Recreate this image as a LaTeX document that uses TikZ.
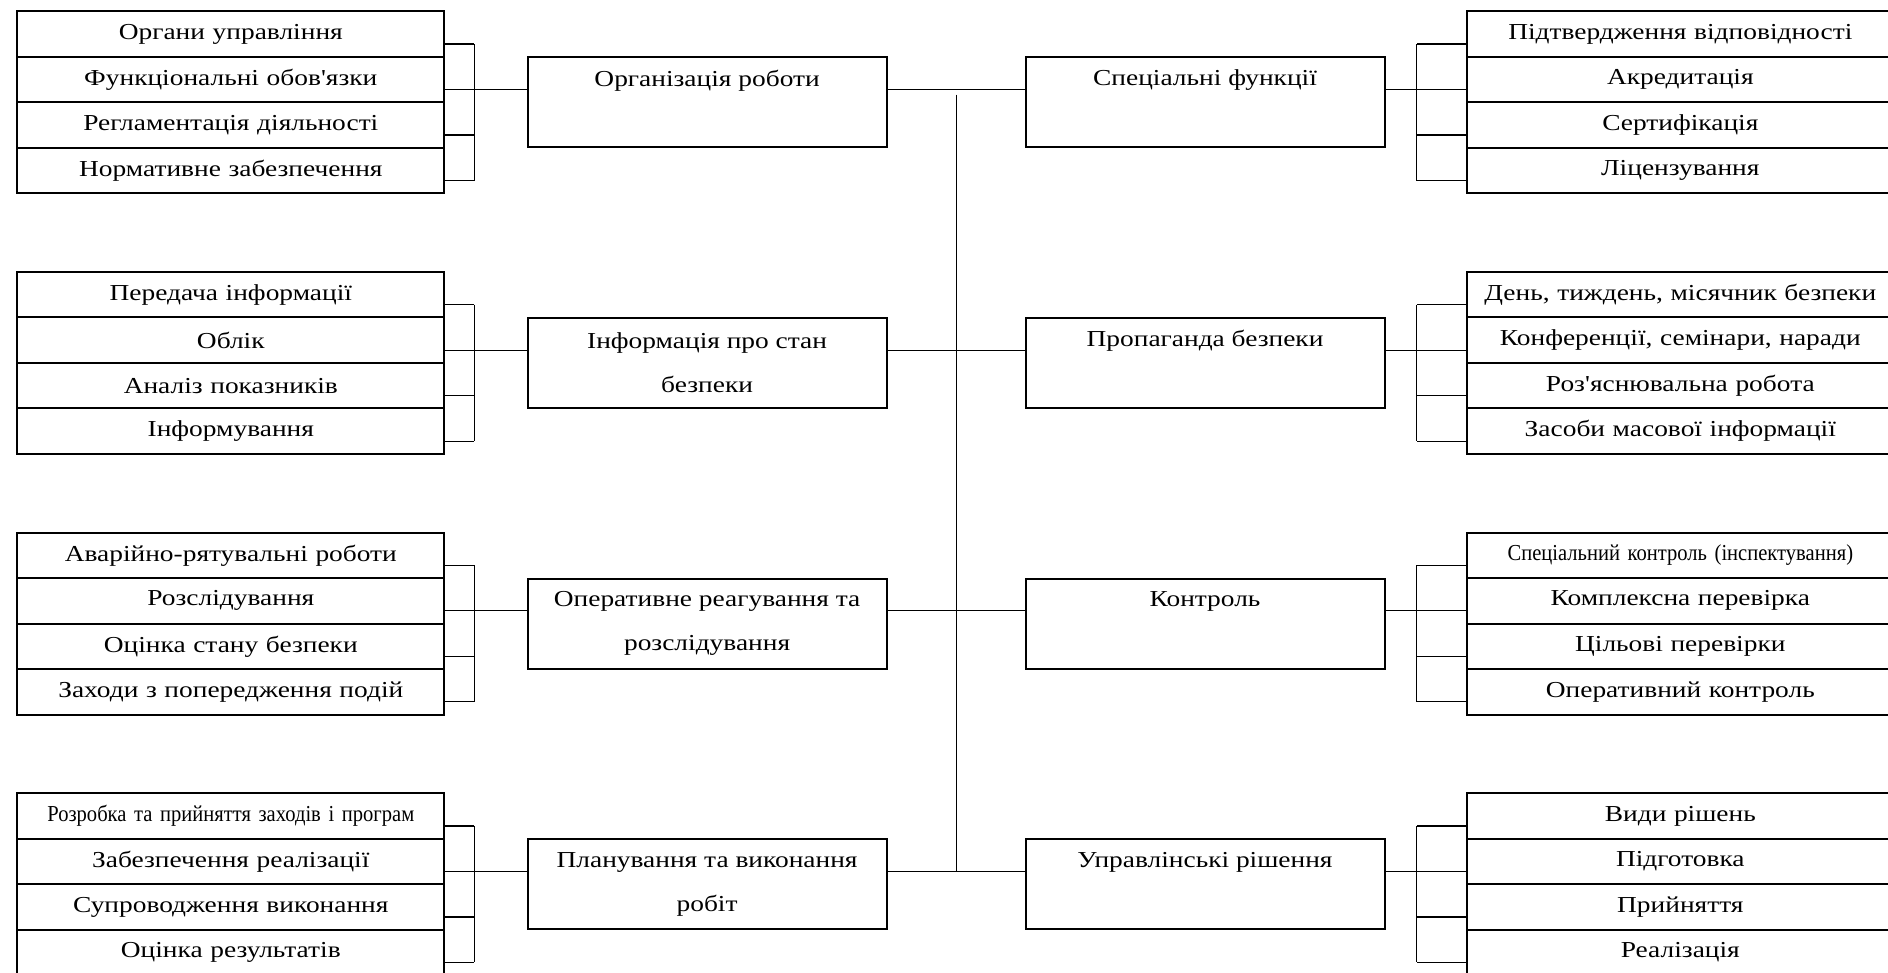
\documentclass[tikz,border=0pt]{standalone}
\usepackage{fontspec}
\setmainfont{Liberation Serif}[FakeStretch=1.2, Ligatures=TeXOff]
\newfontfamily\narrowfont{Liberation Serif}[FakeStretch=0.9]
\usetikzlibrary{positioning,matrix,calc}
\tikzset{
  sch/list/.style={matrix of nodes, inner sep=0pt, row sep=-1.1pt,
    nodes={draw, line width=1.1pt, text width=85.4mm, minimum height=9.1mm,
      inner xsep=0pt, inner ysep=0pt, align=center, font=\fontsize{13}{15}\selectfont}},
  sch/head/.style={draw, line width=1.1pt, minimum width=71.8mm, minimum height=18mm,
    inner sep=0pt, align=center, font=\fontsize{13}{25}\selectfont},
  sch/line/.style={line width=0.7pt}
}
\newcommand{\narrow}[1]{{\narrowfont #1}}
\newcommand{\oneline}[1]{#1\\\phantom{#1}}

\begin{document}
\begin{tikzpicture}
\useasboundingbox (0,0) rectangle (377.6mm,-194.6mm);
% left lists
\matrix (orgL) [sch/list, anchor=north west] at (3.2mm,-2mm) {
  Органи управління\\
  Функціональні обов'язки\\
  Регламентація діяльності\\
  Нормативне забезпечення\\
};
\matrix (infL) [sch/list, below=15.2mm of orgL.south west, anchor=north west] {
  Передача інформації\\
  Облік\\
  Аналіз показників\\
  Інформування\\
};
\matrix (operL) [sch/list, below=15.2mm of infL.south west, anchor=north west] {
  Аварійно-рятувальні роботи\\
  Розслідування\\
  Оцінка стану безпеки\\
  Заходи з попередження подій\\
};
\matrix (planL) [sch/list, below=15.2mm of operL.south west, anchor=north west] {
  \narrow{Розробка та прийняття заходів і програм}\\
  Забезпечення реалізації\\
  Супроводження виконання\\
  Оцінка результатів\\
};
% middle boxes
\node (orgH) [sch/head, right=16.2mm of orgL] {\oneline{Організація роботи}};
\node (infH) [sch/head, right=16.2mm of infL] {Інформація про стан\\безпеки};
\node (operH) [sch/head, right=16.2mm of operL] {Оперативне реагування та\\розслідування};
\node (planH) [sch/head, right=16.2mm of planL] {Планування та виконання\\робіт};
\node (specH) [sch/head, right=27.4mm of orgH] {\oneline{Спеціальні функції}};
\node (propH) [sch/head, right=27.4mm of infH] {\oneline{Пропаганда безпеки}};
\node (ctrlH) [sch/head, right=27.4mm of operH] {\oneline{Контроль}};
\node (decH) [sch/head, right=27.4mm of planH] {\oneline{Управлінські рішення}};
% right lists
\matrix (specL) [sch/list, right=16mm of specH] {
  Підтвердження відповідності\\
  Акредитація\\
  Сертифікація\\
  Ліцензування\\
};
\matrix (propL) [sch/list, right=16mm of propH] {
  День, тиждень, місячник безпеки\\
  Конференції, семінари, наради\\
  Роз'яснювальна робота\\
  Засоби масової інформації\\
};
\matrix (ctrlL) [sch/list, right=16mm of ctrlH] {
  \narrow{Спеціальний контроль (інспектування)}\\
  Комплексна перевірка\\
  Цільові перевірки\\
  Оперативний контроль\\
};
\matrix (decL) [sch/list, right=16mm of decH] {
  Види рішень\\
  Підготовка\\
  Прийняття\\
  Реалізація\\
};
% brackets
\foreach \n in {org,inf,oper,plan}{
  \foreach \r in {1,...,4}
    \draw[sch/line] ([yshift=-2mm]\n L-\r-1.east) -- ++(5.8mm,0) coordinate (\n t\r);
  \draw[sch/line] (\n t1) -- (\n t4);
  \draw[sch/line] (\n t2) -- (\n t2 -| \n H.west);
}
\foreach \n in {spec,prop,ctrl,dec}{
  \foreach \r in {1,...,4}
    \draw[sch/line] ([yshift=-2mm]\n L-\r-1.west) -- ++(-9.8mm,0) coordinate (\n t\r);
  \draw[sch/line] (\n t1) -- (\n t4);
  \draw[sch/line] (\n t2) -- (\n t2 -| \n H.east);
}
% links across and the trunk
\draw[sch/line] (orgt2 -| orgH.east) -- (orgt2 -| specH.west);
\draw[sch/line] (inft2 -| infH.east) -- (inft2 -| propH.west);
\draw[sch/line] (opert2 -| operH.east) -- (opert2 -| ctrlH.west);
\draw[sch/line] (plant2 -| planH.east) -- (plant2 -| decH.west);
\coordinate (trunkTop) at ($(orgt2 -| orgH.east)+(13.8mm,-1mm)$);
\coordinate (trunkEnd) at ($(plant2 -| planH.east)+(13.8mm,0)$);
\draw[sch/line] (trunkTop) -- (trunkEnd);
\end{tikzpicture}
\end{document}
